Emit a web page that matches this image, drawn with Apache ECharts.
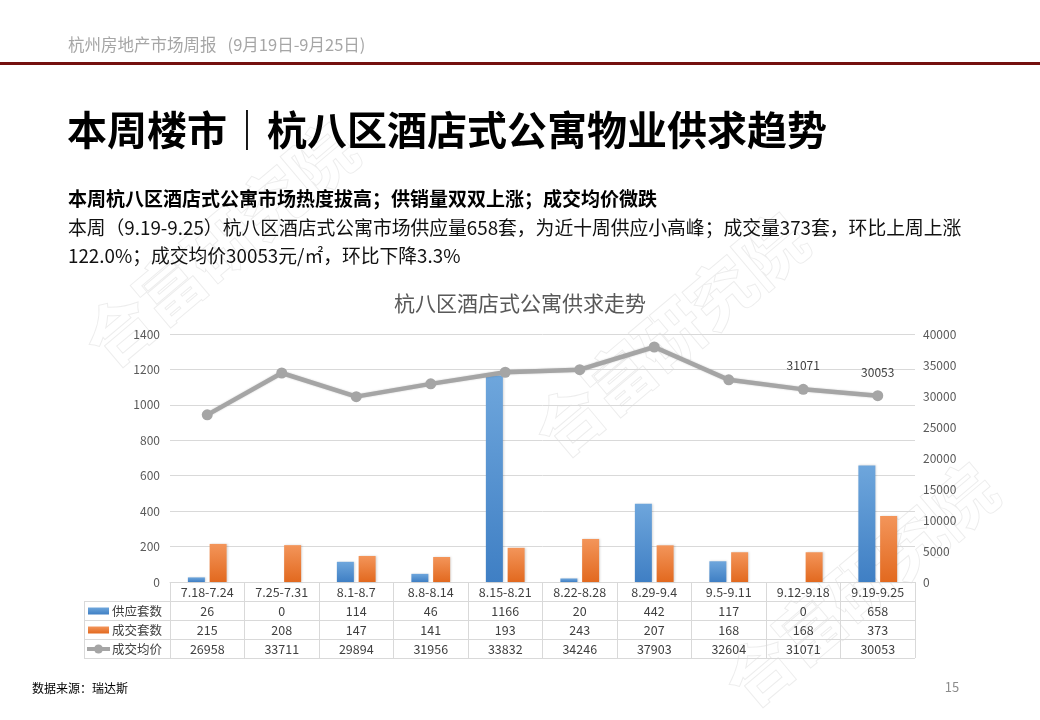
<!DOCTYPE html>
<html><head><meta charset="utf-8">
<script src="https://cdn.jsdelivr.net/npm/echarts@6/dist/echarts.min.js"></script>
<style>html,body{margin:0;padding:0;background:#fff}#c{width:1040px;height:720px}</style>
</head><body><div id="c"></div>
<script>
const categories = ['7.18-7.24','7.25-7.31','8.1-8.7','8.8-8.14','8.15-8.21','8.22-8.28','8.29-9.4','9.5-9.11','9.12-9.18','9.19-9.25'];
const supply = [26, 0, 114, 46, 1166, 20, 442, 117, 0, 658];
const deals = [215, 208, 147, 141, 193, 243, 207, 168, 168, 373];
const avgPrice = [26958, 33711, 29894, 31956, 33832, 34246, 37903, 32604, 31071, 30053];
const seriesNames = ['供应套数', '成交套数', '成交均价'];
const leftTicks = {min: 0, max: 1400, interval: 200};
const rightTicks = {min: 0, max: 40000, interval: 5000};

const FONT = '"Noto Sans CJK SC", "Noto Sans", sans-serif';
const GL = 170, GR = 915, GT = 334, GB = 582;
const ROW = 19;
const TL = 84;

const blueGrad = new echarts.graphic.LinearGradient(0,0,0,1,[{offset:0,color:'#6ea6dc'},{offset:1,color:'#3f7fc4'}]);
const orangeGrad = new echarts.graphic.LinearGradient(0,0,0,1,[{offset:0,color:'#f3955a'},{offset:1,color:'#e2691f'}]);

const graphics = [];
// watermarks
[[220,245],[670,335],[860,585]].forEach(p => {
  graphics.push({type:'text', x:p[0], y:p[1], rotation:0.7, z:-10, silent:true,
    style:{text:'合富研究院', font:'bold 66px '+FONT, fill:'#fff', stroke:'#ededed', lineWidth:2, align:'center', verticalAlign:'middle'}});
});
// header
graphics.push({type:'text', x:68, y:45, style:{text:'杭州房地产市场周报   (9月19日-9月25日)', font:'16.5px '+FONT, fill:'#a6a6a6', verticalAlign:'middle'}});
graphics.push({type:'rect', shape:{x:0, y:62, width:1040, height:3}, style:{fill:'#74100f'}});
graphics.push({type:'text', x:67, y:130, style:{text:'本周楼市｜杭八区酒店式公寓物业供求趋势', font:'bold 40px '+FONT, fill:'#000', verticalAlign:'middle'}});
graphics.push({type:'text', x:68, y:199, style:{text:'本周杭八区酒店式公寓市场热度拔高；供销量双双上涨；成交均价微跌', font:'bold 19px '+FONT, fill:'#000', verticalAlign:'middle'}});
graphics.push({type:'text', x:68, y:228, style:{text:'本周（9.19-9.25）杭八区酒店式公寓市场供应量658套，为近十周供应小高峰；成交量373套，环比上周上涨', font:'18.8px '+FONT, fill:'#111', verticalAlign:'middle'}});
graphics.push({type:'text', x:68, y:256, style:{text:'122.0%；成交均价30053元/㎡，环比下降3.3%', font:'18.8px '+FONT, fill:'#111', verticalAlign:'middle'}});
graphics.push({type:'text', x:32, y:688, style:{text:'数据来源：瑞达斯', font:'12px '+FONT, fill:'#000', verticalAlign:'middle'}});
graphics.push({type:'text', x:952, y:687, style:{text:'15', font:'13px '+FONT, fill:'#8c8c8c', align:'center', verticalAlign:'middle'}});

// table lines
const lineStyle = {stroke:'#d9d9d9', lineWidth:1};
for (let r = 1; r <= 4; r++) {
  const y = GB + r*ROW + 0.5;
  graphics.push({type:'line', shape:{x1:TL, y1:y, x2:GR, y2:y}, style:lineStyle});
}
graphics.push({type:'line', shape:{x1:TL+0.5, y1:GB+ROW, x2:TL+0.5, y2:GB+4*ROW}, style:lineStyle});
// legend cells
const rowC = r => GB + r*ROW + ROW/2 + 0.5;
graphics.push({type:'rect', shape:{x:88, y:rowC(1)-3.5, width:21, height:7}, style:{fill:blueGrad}});
graphics.push({type:'rect', shape:{x:88, y:rowC(2)-3.5, width:21, height:7}, style:{fill:orangeGrad}});
graphics.push({type:'line', shape:{x1:87, y1:rowC(3), x2:110, y2:rowC(3)}, style:{stroke:'#a5a5a5', lineWidth:4}});
graphics.push({type:'circle', shape:{cx:98.5, cy:rowC(3), r:4.5}, style:{fill:'#a5a5a5'}});
seriesNames.forEach((n,i) => {
  graphics.push({type:'text', x:112, y:rowC(i+1), style:{text:n, font:'12.5px '+FONT, fill:'#404040', verticalAlign:'middle'}});
});

const option = {
  animation: false,
  textStyle: {fontFamily: FONT},
  title: {text:'杭八区酒店式公寓供求走势', left:'center', top:288, textStyle:{fontSize:21, fontWeight:'normal', color:'#595959', fontFamily:FONT}},
  grid: {left:GL, right:1040-GR, top:GT, bottom:720-GB},
  graphic: graphics,
  xAxis: {
    type:'category', data:categories,
    axisLine:{lineStyle:{color:'#d9d9d9'}},
    axisTick:{show:true, length:ROW*4, lineStyle:{color:'#d9d9d9'}},
    axisLabel:{
      interval:0, margin:1, color:'#404040', fontSize:12.5, lineHeight:ROW, fontFamily:FONT,
      formatter:(v, i) => [v, supply[i], deals[i], avgPrice[i]].join('\n')
    }
  },
  yAxis: [
    {type:'value', min:leftTicks.min, max:leftTicks.max, interval:leftTicks.interval,
      axisLine:{show:false}, axisTick:{show:false},
      axisLabel:{color:'#595959', fontSize:12, margin:10, formatter:v => String(v)},
      splitLine:{lineStyle:{color:'#d9d9d9'}}},
    {type:'value', min:rightTicks.min, max:rightTicks.max, interval:rightTicks.interval,
      axisLine:{show:false}, axisTick:{show:false},
      axisLabel:{color:'#595959', fontSize:12, margin:8, formatter:v => String(v)},
      splitLine:{show:false}}
  ],
  series: [
    {name:seriesNames[0], type:'bar', data:supply, barWidth:17, barGap:'28%',
      itemStyle:{color:blueGrad, shadowColor:'rgba(0,0,0,0.15)', shadowBlur:2, shadowOffsetX:1}},
    {name:seriesNames[1], type:'bar', data:deals, barWidth:17,
      itemStyle:{color:orangeGrad, shadowColor:'rgba(0,0,0,0.15)', shadowBlur:2, shadowOffsetX:1}},
    {name:seriesNames[2], type:'line', yAxisIndex:1, data:avgPrice.map((v,i) => ({value:v, label:{show:i >= avgPrice.length-2}})),
      symbol:'circle', symbolSize:11, z:5,
      lineStyle:{color:'#a5a5a5', width:4.5, shadowColor:'rgba(0,0,0,0.2)', shadowBlur:2},
      itemStyle:{color:'#a5a5a5'},
      label:{position:'top', distance:12, color:'#404040', fontSize:12}}
  ]
};
const chart = echarts.init(document.getElementById('c'));
chart.setOption(option);
</script></body></html>
